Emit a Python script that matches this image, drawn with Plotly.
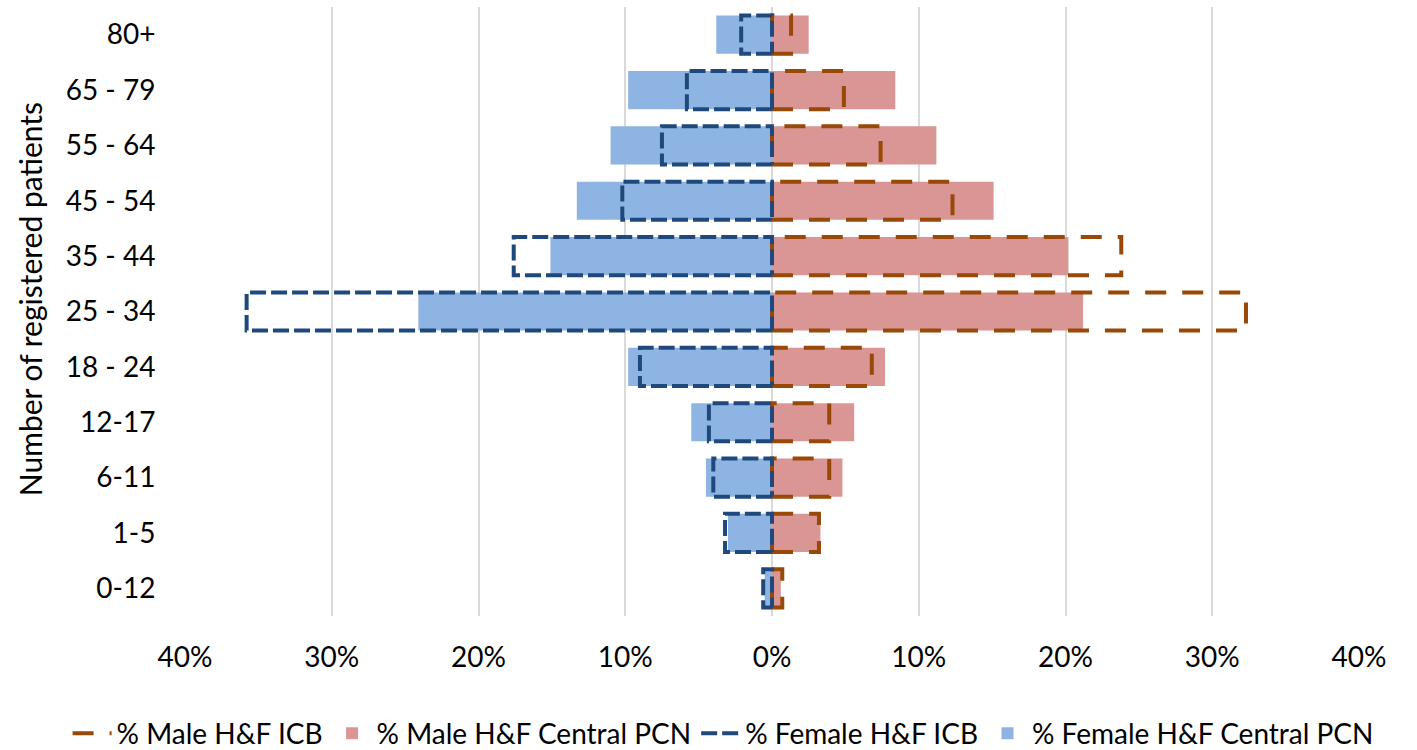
import plotly.graph_objects as go

# ---------------- data ----------------
categories = ["0-12", "1-5", "6-11", "12-17", "18 - 24", "25 - 34",
              "35 - 44", "45 - 54", "55 - 64", "65 - 79", "80+"]
male_icb = [0.7, 3.2, 3.9, 3.9, 6.8, 32.3, 23.8, 12.3, 7.4, 4.9, 1.3]
male_pcn = [0.6, 3.3, 4.8, 5.6, 7.7, 21.2, 20.2, 15.1, 11.2, 8.4, 2.5]
female_icb = [0.6, 3.2, 4.0, 4.3, 9.0, 35.8, 17.6, 10.2, 7.5, 5.8, 2.1]
female_pcn = [0.5, 3.0, 4.5, 5.5, 9.8, 24.1, 15.1, 13.3, 11.0, 9.8, 3.8]
x_ticks = [-40, -30, -20, -10, 0, 10, 20, 30, 40]
x_tick_labels = ["40%", "30%", "20%", "10%", "0%", "10%", "20%", "30%", "40%"]

FONT = "Lato"
FS = 28
BAR_W = 0.69
y_idx = list(range(len(categories)))


def outline(values, sign):
    xs, ys = [], []
    h = BAR_W / 2
    for i, v in zip(y_idx, values):
        x = sign * v
        xs += [0, x, x, 0, 0, None]
        ys += [i - h, i - h, i + h, i + h, i - h, None]
    return xs, ys


fig = go.Figure()

mx, my = outline(male_icb, 1)
fig.add_trace(go.Scatter(
    x=mx, y=my, mode="lines", name="% Male H&F ICB",
    line=dict(color="#984807", width=4, dash="21px,16px"),
))
fig.add_trace(go.Bar(
    x=male_pcn, y=y_idx, orientation="h", width=BAR_W, base=0,
    marker=dict(color="#D99694", line=dict(width=0)),
    name="% Male H&F Central PCN",
))
fx, fy = outline(female_icb, -1)
fig.add_trace(go.Scatter(
    x=fx, y=fy, mode="lines", name="% Female H&F ICB",
    line=dict(color="#1F497D", width=4, dash="16px,5px"),
))
fig.add_trace(go.Bar(
    x=[-v for v in female_pcn], y=y_idx, orientation="h", width=BAR_W, base=0,
    marker=dict(color="#8EB4E3", line=dict(width=0)),
    name="% Female H&F Central PCN",
))

fig.update_layout(
    width=1417, height=750,
    margin=dict(l=185, r=58, t=7, b=134, autoexpand=False),
    paper_bgcolor="white", plot_bgcolor="white",
    barmode="overlay",
    font=dict(family=FONT, size=FS, color="#000000"),
    showlegend=True,
    legend=dict(
        orientation="h", x=-0.1, xanchor="left", xref="paper",
        y=-0.193, yanchor="middle", yref="paper",
        font=dict(family=FONT, size=FS, color="#000000"),
        itemwidth=39, traceorder="normal",
    ),
    xaxis=dict(
        range=[-40, 40], tickvals=x_ticks, ticktext=x_tick_labels,
        showgrid=True, gridcolor="#D9D9D9", gridwidth=2,
        zeroline=False, showline=False,
        ticks="outside", ticklen=16, tickcolor="rgba(0,0,0,0)",
        tickfont=dict(family=FONT, size=FS, color="#000000"),
        fixedrange=True, automargin=False, tickangle=0,
    ),
    yaxis=dict(
        range=[-0.5, 10.5], tickvals=y_idx, ticktext=categories,
        showgrid=False, zeroline=False, showline=False,
        ticks="outside", ticklen=23, tickcolor="rgba(0,0,0,0)",
        tickfont=dict(family=FONT, size=FS, color="#000000"),
        fixedrange=True, automargin=False,
    ),
    annotations=[dict(
        text="Number of registered patients", textangle=-90,
        xref="paper", yref="paper", x=-0.1325, y=0.521,
        xanchor="center", yanchor="middle", showarrow=False,
        font=dict(family=FONT, size=30, color="#000000"),
    )],
)

fig.write_html(
    "out.html",
    config={"displayModeBar": False},
    post_script="document.body.style.margin='0px';document.body.style.padding='0px';",
)
